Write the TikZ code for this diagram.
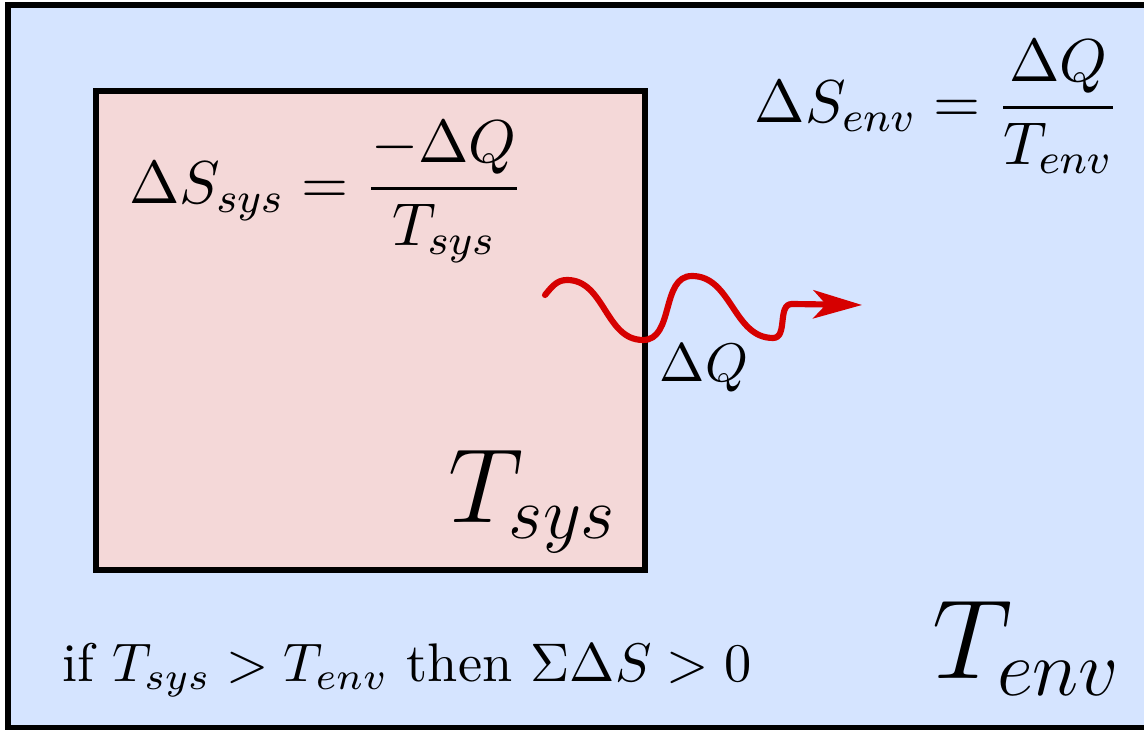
\RequirePackage{fix-cm}
\documentclass[tikz,border=0pt]{standalone}
\usepackage{amsmath,amssymb}
\usepackage{tikz}
\usetikzlibrary{arrows.meta, positioning}
\usepackage{xcolor}
\definecolor{cEnv}{RGB}{213,228,255}
\definecolor{cSys}{RGB}{244,216,216}
\definecolor{cHeat}{RGB}{214,0,0}
\tikzset{
  envbox/.style={draw=black, line width=1pt, fill=cEnv},
  sysbox/.style={draw=black, line width=1pt, fill=cSys},
  eqnode/.style={inner sep=0pt, align=center,
                 font=\fontsize{11.8}{14}\selectfont},
  labelnode/.style={inner sep=0pt, align=center,
                    font=\fontsize{10.6}{13}\selectfont},
  heatarrow/.style={-{Stealth[length=9.5pt, width=5.5pt, inset=2.5pt]},
                    line width=1.2pt, color=cHeat, line cap=round}
}

\begin{document}
\begin{tikzpicture}[x=0.195pt, y=-0.195pt]
  \useasboundingbox (0,0) rectangle (1144,730);
  % environment and system
  \draw[envbox] (8,5) rectangle (1170,728);
  \draw[sysbox] (96,91) rectangle (645,570);

  % entropy changes
  \node[eqnode] (dSsys) at (326,192)
    {$\displaystyle \Delta S_{sys} = \frac{-\Delta Q}{T_{sys}}$};
  \node[eqnode] (dSenv) at (937,107)
    {$\displaystyle \Delta S_{env} = \frac{\Delta Q}{T_{env}}$};

  % heat flow
  \coordinate (q0) at (545,295);
  \coordinate (q1) at (567,280);
  \coordinate (q2) at (643,340);
  \coordinate (q3) at (692,276);
  \coordinate (q4) at (773,338);
  \coordinate (q5) at (792,304);
  \coordinate (qend) at (862,305);
  \draw[heatarrow] (q0) to[out=50,in=180] (q1) to[out=0,in=180] (q2)
    to[out=0,in=180] (q3) to[out=0,in=180] (q4)
    to[out=0,in=180] (q5) -- (qend);
  \node[labelnode] (dQ) at (704,368) {$\Delta Q$};

  % temperatures
  \node[labelnode, font=\fontsize{20.6}{24}\selectfont] (Tsys) at (533,502)
    {$T_{sys}$};
  \node[labelnode, font=\fontsize{22}{26}\selectfont] (Tenv) at (1027,648)
    {$T_{env}$};
  \node[labelnode] (cond) at (407,670)
    {if $T_{sys} > T_{env}$ then $\Sigma\Delta S > 0$};
\end{tikzpicture}
\end{document}
